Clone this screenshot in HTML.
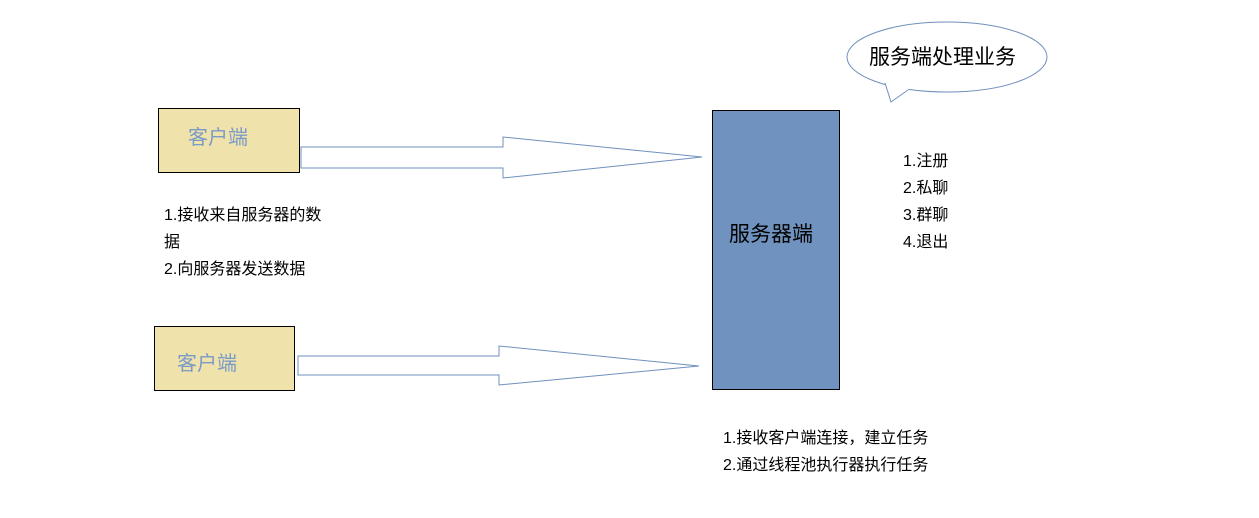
<!DOCTYPE html>
<html><head><meta charset="utf-8"><style>
body{margin:0;width:1259px;height:518px;background:#fff;overflow:hidden;font-family:"Liberation Sans","Noto Sans CJK SC",sans-serif}
svg{position:absolute;left:0;top:0}
.t{position:absolute;font-size:16px;color:#000;line-height:27px;white-space:nowrap}
</style></head><body>
<svg width="1259" height="518">
<rect x="158.5" y="108.5" width="141" height="64" fill="#efe2ab" stroke="#000"/>
<rect x="154.5" y="326.5" width="140" height="64" fill="#efe2ab" stroke="#000"/>
<rect x="712.5" y="110.5" width="127" height="279" fill="#7092be" stroke="#000"/>
<polygon points="301,147 503,147 503,137 702,157 503,178 503,168 301,168" fill="#fff" stroke="#6f90bd" stroke-width="1"/>
<polygon points="298,356 499,356 499,346 699,366 499,385 499,375 298,375" fill="#fff" stroke="#6f90bd" stroke-width="1"/>
<ellipse cx="947" cy="57" rx="100" ry="35" fill="#fff" stroke="#6f90bd"/>
<polygon points="885,82 891,102 910,88" fill="#fff"/>
<polyline points="885,83 891,102 908,90" fill="none" stroke="#6f90bd"/>
<text x="188" y="144" font-size="20" fill="#7a9ac8" font-family="Liberation Sans,Noto Sans CJK SC,sans-serif">客户端</text>
<text x="177" y="370" font-size="20" fill="#7a9ac8" font-family="Liberation Sans,Noto Sans CJK SC,sans-serif">客户端</text>
<text x="729" y="241" font-size="21" fill="#000" font-family="Liberation Sans,Noto Sans CJK SC,sans-serif">服务器端</text>
<text x="869" y="64" font-size="21" fill="#000" font-family="Liberation Sans,Noto Sans CJK SC,sans-serif">服务端处理业务</text>
</svg>
<div class="t" style="left:164px;top:202px">1.接收来自服务器的数<br>据<br>2.向服务器发送数据</div>
<div class="t" style="left:903px;top:148px">1.注册<br>2.私聊<br>3.群聊<br>4.退出</div>
<div class="t" style="left:723px;top:425px">1.接收客户端连接，建立任务<br>2.通过线程池执行器执行任务</div>
</body></html>
